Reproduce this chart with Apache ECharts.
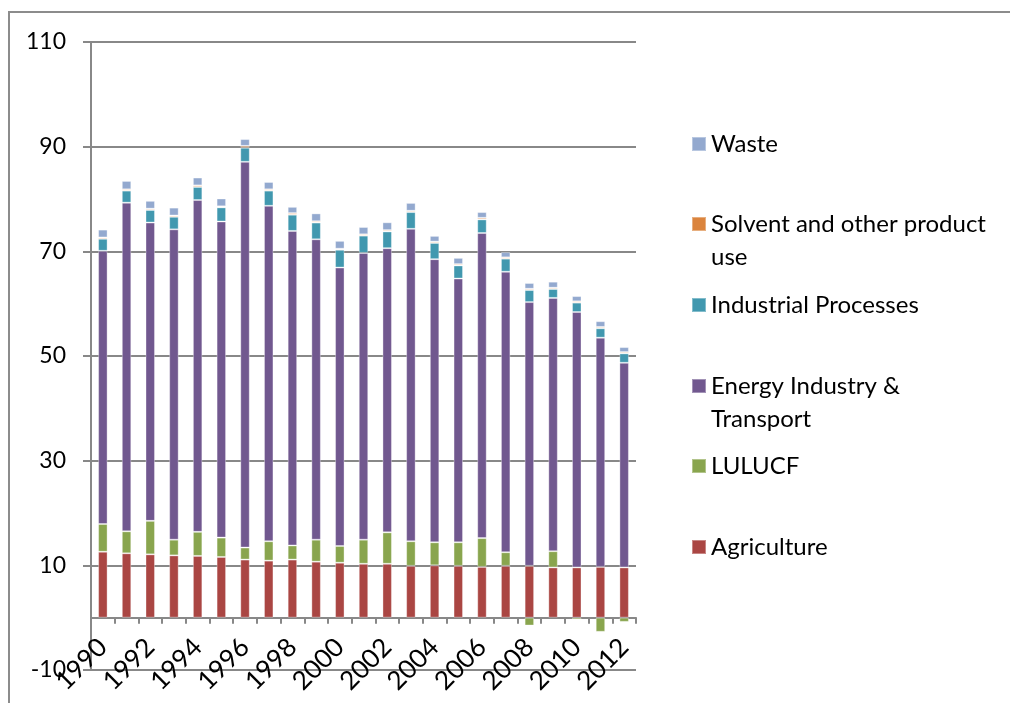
<!DOCTYPE html>
<html>
<head>
    <title>Emissions by sector</title>
    <meta charset="UTF-8">
    <script type="text/javascript" src="https://cdn.jsdelivr.net/npm/echarts@6/dist/echarts.min.js"></script>
    <style>
        body { margin: 0; background: #fff; }
    </style>
</head>
<body>
<div id="main" style="width: 1010px;height:703px;"></div>
<script type="text/javascript">
    var years = ['1990', '1991', '1992', '1993', '1994', '1995', '1996', '1997', '1998', '1999', '2000', '2001',
        '2002', '2003', '2004', '2005', '2006', '2007', '2008', '2009', '2010', '2011', '2012'];
    var agriculture = [12.6, 12.3, 12.1, 11.9, 11.8, 11.6, 11.1, 10.9, 11.1, 10.7, 10.5, 10.3,
        10.3, 9.9, 10.0, 9.9, 9.7, 9.9, 9.9, 9.6, 9.6, 9.7, 9.6];
    var lulucf = [5.3, 4.2, 6.4, 3.0, 4.6, 3.7, 2.3, 3.7, 2.7, 4.2, 3.2, 4.6,
        6.0, 4.7, 4.4, 4.5, 5.5, 2.6, -1.5, 3.1, -0.35, -2.7, -0.8];
    var energy = [52.2, 62.8, 57.0, 59.3, 63.4, 60.4, 73.7, 64.1, 60.1, 57.4, 53.2, 54.8,
        54.3, 59.7, 54.1, 50.4, 58.3, 53.6, 50.4, 48.4, 48.8, 43.8, 39.1];
    var industrial = [2.3, 2.3, 2.4, 2.4, 2.5, 2.7, 2.7, 2.9, 3.1, 3.2, 3.4, 3.3,
        3.2, 3.2, 3.1, 2.5, 2.6, 2.5, 2.3, 1.7, 1.8, 1.8, 1.8];
    var solvent = [0.25, 0.25, 0.25, 0.25, 0.3, 0.2, 0.35, 0.25, 0.3, 0.25, 0.2, 0.25,
        0.25, 0.25, 0.25, 0.25, 0.3, 0.25, 0.25, 0.25, 0.25, 0.25, 0.25];
    var waste = [1.5, 1.6, 1.5, 1.5, 1.5, 1.5, 1.3, 1.4, 1.2, 1.5, 1.5, 1.4,
        1.5, 1.5, 1.1, 1.2, 1.1, 1.0, 1.1, 1.15, 1.0, 1.1, 0.95];

    var fontName = 'Lato';
    var myChart = echarts.init(document.getElementById('main'));

    function makeSeries(name, data, color) {
        return {
            name: name,
            type: 'bar',
            stack: 'total',
            barWidth: '40%',
            data: data,
            itemStyle: {
                color: color,
                borderColor: 'rgba(255,255,255,0.35)',
                borderWidth: 1
            }
        };
    }

    // one legend per entry so the rows can sit where the original has them
    function makeLegend(name, label, centerY, lines) {
        return {
            data: [name],
            left: 691,
            top: centerY - 16.5 * lines,
            padding: 0,
            itemWidth: 14,
            itemHeight: 14,
            itemGap: 5,
            icon: 'rect',
            selectedMode: false,
            formatter: function () { return label; },
            textStyle: {fontFamily: fontName, fontSize: 24, color: '#000', lineHeight: 33}
        };
    }

    myChart.setOption({
        animation: false,
        graphic: [{
            type: 'rect',
            shape: {x: 9, y: 12, width: 1200, height: 900},
            style: {fill: 'none', stroke: '#8c8c8c', lineWidth: 2},
            silent: true
        }],
        legend: [
            makeLegend('Waste', 'Waste', 144, 1),
            makeLegend('Solvent and other product use', '\nSolvent and other product\nuse', 224, 3),
            makeLegend('Industrial Processes', 'Industrial Processes', 305, 1),
            makeLegend('Energy Industry & Transport', '\nEnergy Industry &\nTransport', 386, 3),
            makeLegend('LULUCF', 'LULUCF', 466, 1),
            makeLegend('Agriculture', 'Agriculture', 547, 1)
        ],
        grid: {left: 91, right: 374, top: 42, bottom: 33, outerBoundsMode: 'none', containLabel: false},
        xAxis: {
            type: 'category',
            data: years,
            axisLine: {onZero: true, lineStyle: {color: '#888', width: 2}},
            axisTick: {show: true, interval: 0, length: 6, lineStyle: {color: '#888', width: 2}},
            axisLabel: {
                interval: 1,
                rotate: 45,
                margin: -27,
                fontFamily: fontName,
                fontSize: 26,
                color: '#000'
            },
            splitLine: {show: false}
        },
        yAxis: {
            type: 'value',
            min: -10,
            max: 110,
            interval: 20,
            axisLine: {show: true, lineStyle: {color: '#888', width: 2}},
            axisTick: {show: true, length: 8, lineStyle: {color: '#888', width: 2}},
            axisLabel: {margin: 25, fontFamily: fontName, fontSize: 23, color: '#000'},
            splitLine: {lineStyle: {color: '#888', width: 2}}
        },
        series: [
            makeSeries('Agriculture', agriculture, '#AA4643'),
            makeSeries('LULUCF', lulucf, '#89A54E'),
            makeSeries('Energy Industry & Transport', energy, '#71588F'),
            makeSeries('Industrial Processes', industrial, '#4198AF'),
            makeSeries('Solvent and other product use', solvent, '#DB843D'),
            makeSeries('Waste', waste, '#93A9CF')
        ]
    });
</script>
</body>
</html>
